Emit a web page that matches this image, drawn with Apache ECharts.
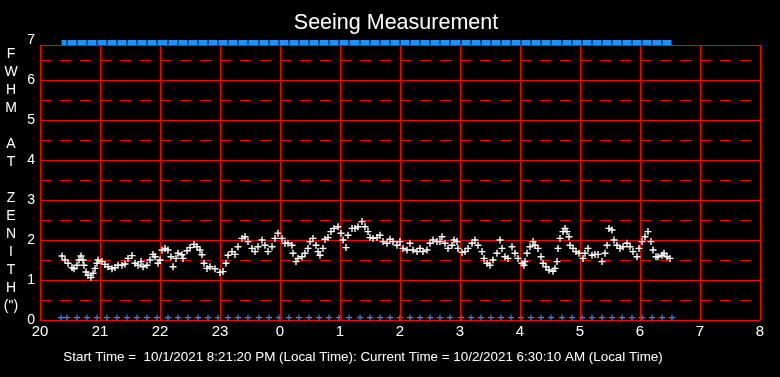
<!DOCTYPE html>
<html><head><meta charset="utf-8">
<script src="https://cdn.jsdelivr.net/npm/echarts@6/dist/echarts.min.js"></script>
<style>html,body{margin:0;padding:0;background:#000;}#c{width:780px;height:377px;}</style>
</head><body><div id="c"></div>
<script>
// minutes after 20:00 (local) and FWHM seeing values (arcsec)
const seeingMinutes = [22,25,28,32,34,37,39,41,43,44,46,48,51,53,55,57,58,62,65,68,72,75,78,82,85,88,92,95,98,101,103,107,110,113,115,118,120,122,125,128,131,133,136,138,142,143,147,150,154,157,160,162,164,167,170,
175,180,183,186,188,192,195,198,202,205,208,212,215,218,222,225,228,232,235,238,242,245,248,252,253,256,258,262,265,268,270,273,276,278,280,283,285,288,291,294,298,301,303,306,308,312,315,318,322,325,328,
330,333,337,340,343,347,350,353,357,360,363,367,370,373,377,380,383,387,390,393,397,400,402,405,408,412,414,417,418,422,425,428,432,435,438,442,444,447,450,453,457,460,462,465,468,472,475,478,482,484,
485,487,490,493,495,498,501,503,506,509,513,515,517,518,520,523,525,527,529,530,533,536,539,543,545,548,552,555,558,562,565,567,569,572,574,577,580,583,587,590,593,597,599,602,605,608,611,613,616,618,622,624,627,630];
const seeingValues = [1.6,1.5,1.42,1.31,1.28,1.37,1.5,1.6,1.5,1.37,1.2,1.12,1.06,1.17,1.29,1.42,1.5,1.46,1.39,1.33,1.28,1.31,1.37,1.37,1.4,1.54,1.61,1.42,1.37,1.46,1.33,1.37,1.5,1.64,1.58,1.42,1.5,1.75,1.79,1.75,1.58,1.33,1.54,1.67,1.63,1.54,1.73,1.81,1.89,1.83,1.75,1.63,1.42,1.29,1.33,
1.28,1.19,1.21,1.42,1.62,1.71,1.64,1.83,2.04,2.08,1.96,1.79,1.71,1.83,2.0,1.87,1.71,1.83,2.04,2.17,2.04,1.92,1.92,1.87,1.67,1.46,1.54,1.58,1.67,1.79,1.96,2.04,1.87,1.71,1.62,1.79,2.02,2.06,2.21,2.29,2.33,2.17,2.0,1.81,2.12,2.29,2.29,2.33,2.46,2.33,2.21,
2.06,2.04,2.06,2.12,1.96,1.92,2.02,1.96,1.87,1.96,1.79,1.75,1.92,1.75,1.71,1.79,1.71,1.75,1.92,2.0,1.96,1.96,2.08,1.92,1.79,1.87,2.0,1.96,1.79,1.69,1.71,1.79,1.92,2.0,1.87,1.71,1.54,1.42,1.37,1.5,1.67,2.0,1.79,1.58,1.54,1.83,1.67,1.54,1.42,1.37,
1.46,1.67,1.83,1.96,1.87,1.79,1.58,1.42,1.33,1.25,1.22,1.29,1.46,1.79,2.04,2.21,2.29,2.21,2.08,1.87,1.79,1.71,1.67,1.54,1.67,1.79,1.62,1.64,1.64,1.46,1.67,1.87,2.29,2.25,2.0,1.87,1.79,1.83,1.92,1.83,1.71,1.58,1.79,1.96,2.08,2.21,1.96,1.75,1.58,1.58,1.62,1.67,1.58,1.54];
// status markers (minutes after 20:00)
const statusMinutes = [21,27,37,47,57,67,77,87,97,107,117,128,138,148,158,168,178,188,198,208,219,229,239,249,259,269,279,289,299,309,320,330,340,350,360,370,380,390,400,410,421,431,441,451,461,471,481,491,501,511,522,532,542,552,562,572,582,592,602,612,622,632];
const statusTopLevel = 6.94;
const statusBottomLevel = 0.06;
// axes
const hourLabels = ['20','21','22','23','0','1','2','3','4','5','6','7','8'];
const gridMinutes = [0,60,120,180,240,300,360,420,480,540,600,660,720];
const yMin = 0, yMax = 7, frameTop = 6.875;

const chart = echarts.init(document.getElementById('c'), null, {renderer: 'canvas'});
const FONT = '"Liberation Sans",Arial,sans-serif';
const plus = 'path://M2.8,0h1.4v7h-1.4zM0,2.8h7v1.4h-7z';

const frameLines = gridMinutes.map(m => [{coord: [m, yMin]}, {coord: [m, frameTop]}]);
frameLines.push([{coord: [gridMinutes[0], frameTop]}, {coord: [gridMinutes[gridMinutes.length - 1], frameTop]}]);

chart.setOption({
  backgroundColor: '#000',
  animation: false,
  title: [
    {text: 'Seeing Measurement', left: 391, top: 7, textAlign: 'center',
     textStyle: {color: '#fff', fontSize: 21.5, fontWeight: 'normal', fontFamily: FONT}},
    {text: 'Start Time =  10/1/2021 8:21:20 PM (Local Time): Current Time = 10/2/2021 6:30:10 AM (Local Time)',
     left: 358, top: 346, textAlign: 'center',
     textStyle: {color: '#fff', fontSize: 13.4, fontWeight: 'normal', fontFamily: FONT}}
  ],
  grid: {left: 40, right: 20, top: 40, bottom: 57, show: false},
  xAxis: {
    type: 'value', min: 0, max: 720, interval: 60,
    axisLine: {show: true, lineStyle: {color: '#ff0000', width: 1}},
    axisTick: {show: false},
    splitLine: {show: false},
    axisLabel: {color: '#fff', fontSize: 15, margin: 4, fontFamily: FONT,
      formatter: v => hourLabels[Math.round(v / 60)]}
  },
  yAxis: {
    type: 'value', min: yMin, max: yMax, interval: 1,
    name: 'F\nW\nH\nM\n\nA\nT\n\nZ\nE\nN\nI\nT\nH\n(")',
    nameLocation: 'middle', nameRotate: 0, nameGap: 29,
    nameTextStyle: {color: '#fff', fontSize: 14, lineHeight: 18, align: 'center', verticalAlign: 'middle', fontFamily: FONT},
    axisLine: {show: false},
    axisTick: {show: false},
    axisLabel: {color: '#fff', fontSize: 14, margin: 5, fontFamily: FONT},
    splitLine: {show: true, lineStyle: {color: ['#ff0000','#ff0000','#ff0000','#ff0000','#ff0000','#ff0000','#ff0000','rgba(0,0,0,0)'], width: 1}},
    minorTick: {show: false, splitNumber: 2},
    minorSplitLine: {show: true, lineStyle: {color: '#ff0000', width: 1, type: [11, 9]}}
  },
  series: [
    {
      type: 'scatter', name: 'seeing',
      data: seeingMinutes.map((m, i) => [m, seeingValues[i]]),
      symbol: plus, symbolSize: 7,
      itemStyle: {color: '#fff', opacity: 1},
      z: 5,
      markLine: {silent: true, symbol: 'none', label: {show: false},
        lineStyle: {color: '#ff0000', width: 1, type: 'solid', opacity: 1}, data: frameLines}
    },
    {
      type: 'line', name: 'statusTop',
      data: statusMinutes.map(m => [m, statusTopLevel]),
      lineStyle: {color: '#1e90ff', width: 5},
      symbol: 'rect', symbolSize: [1, 5], showSymbol: true, showAllSymbol: true,
      itemStyle: {color: '#000', opacity: 1}, z: 4
    },
    {
      type: 'scatter', name: 'statusBottom',
      data: statusMinutes.map(m => [m, statusBottomLevel]),
      symbol: plus, symbolSize: 6,
      itemStyle: {color: '#1e90ff', opacity: 1}, z: 4
    }
  ]
});
</script></body></html>
